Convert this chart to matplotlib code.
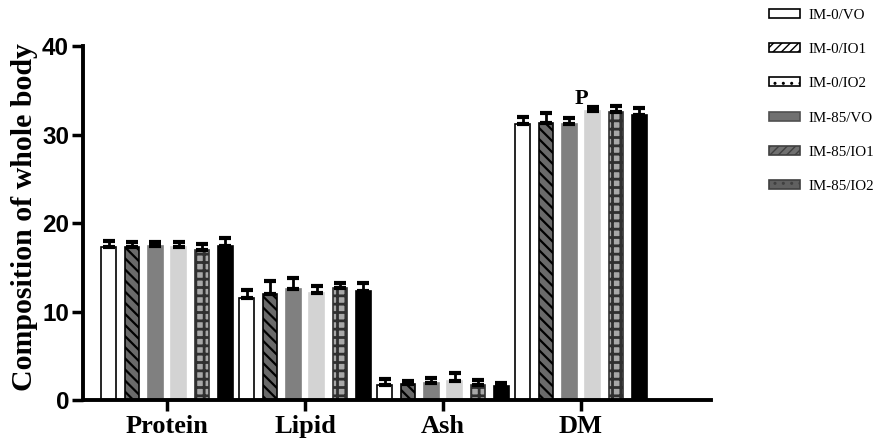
import numpy as np
import matplotlib
matplotlib.use("Agg")
import matplotlib.pyplot as plt
from matplotlib.patches import Patch

# composition values
nutrients = ["Protein", "Lipid", "Ash", "DM"]
groups = ["IM-0/VO", "IM-0/IO1", "IM-0/IO2", "IM-85/VO", "IM-85/IO1", "IM-85/IO2"]

means = [
    [17.3, 11.5, 1.75, 31.2],   # IM-0/VO
    [17.3, 12.0, 1.85, 31.3],   # IM-0/IO1
    [17.4, 12.5, 1.90, 31.2],   # IM-0/IO2
    [17.3, 12.1, 2.15, 32.7],   # IM-85/VO
    [16.9, 12.7, 1.70, 32.5],   # IM-85/IO1
    [17.4, 12.3, 1.55, 32.2],   # IM-85/IO2
]
errs = [
    [0.7, 0.9, 0.65, 0.8],
    [0.5, 1.4, 0.35, 1.1],
    [0.45, 1.25, 0.55, 0.65],
    [0.55, 0.75, 0.9, 0.4],
    [0.75, 0.55, 0.6, 0.75],
    [0.95, 0.9, 0.35, 0.8],
]

# bar styles: (face, edge, hatch, hatch linewidth)
bar_styles = [
    ("white", "black", None, 1.0),
    ("#6a6a6a", "black", "\\\\\\", 1.6),
    ("#808080", "#808080", None, 1.0),
    ("#d3d3d3", "#d3d3d3", None, 1.0),
    ("#a8a8a8", "#303030", "++", 2.0),
    ("black", "black", None, 1.0),
]
# legend styles look different in the original
legend_styles = [
    ("white", "black", None),
    ("white", "black", "////"),
    ("white", "black", ".."),
    ("#707070", "#505050", None),
    ("#707070", "#404040", "////"),
    ("#606060", "#404040", ".."),
]

fig = plt.figure(figsize=(8.81, 4.45), dpi=100)
ax = fig.add_axes([0.0942, 0.1011, 0.7128, 0.7955])

x = np.arange(len(nutrients))
step = 0.169
width = 0.105
for i, g in enumerate(groups):
    fc, ec, hatch, hlw = bar_styles[i]
    plt.rcParams["hatch.linewidth"] = hlw
    pos = x + (i - 2.5) * step
    vals = np.array(means[i])
    e = np.array(errs[i])
    ax.bar(pos, vals, width, color=fc, edgecolor=ec, hatch=hatch,
           linewidth=1.2, zorder=2)
    ax.errorbar(pos, vals, yerr=[np.zeros_like(e), e], fmt="none",
                ecolor="black", elinewidth=2, capsize=4, capthick=3, zorder=3)

ax.text(3, 34.0, "P", ha="center", va="center", fontsize=16,
        fontweight="bold", family="Liberation Serif")

ax.set_xlim(-0.609, 3.942)
ax.set_ylim(0, 40)
ax.set_yticks([0, 10, 20, 30, 40])
ax.set_xticks(x)
ax.set_xticklabels(nutrients, fontsize=19, fontweight="bold", family="Liberation Serif")
for lab in ax.get_yticklabels():
    lab.set_fontsize(17.5)
    lab.set_fontweight("bold")
    lab.set_family("Liberation Sans")
ax.set_ylabel("Composition of whole body", fontsize=21.5, fontweight="bold",
              family="Liberation Serif")
ax.yaxis.set_label_coords(-0.072, 0.518)

for s in ["top", "right"]:
    ax.spines[s].set_visible(False)
for s in ["left", "bottom"]:
    ax.spines[s].set_linewidth(2.8)
ax.tick_params(axis="both", direction="out", length=8, width=2.5, pad=2)
ax.tick_params(axis="x", pad=3)

plt.rcParams["hatch.linewidth"] = 1.0
handles = [Patch(facecolor=fc, edgecolor=ec, hatch=h, linewidth=1.2)
           for fc, ec, h in legend_styles]
leg = fig.legend(handles, groups, loc="upper left", bbox_to_anchor=(0.857, 1.011),
                 frameon=False, handlelength=2.1, handleheight=0.55,
                 labelspacing=1.42, handletextpad=0.55,
                 prop={"family": "Liberation Serif", "size": 10.8})

plt.savefig("out.png", dpi=100)
